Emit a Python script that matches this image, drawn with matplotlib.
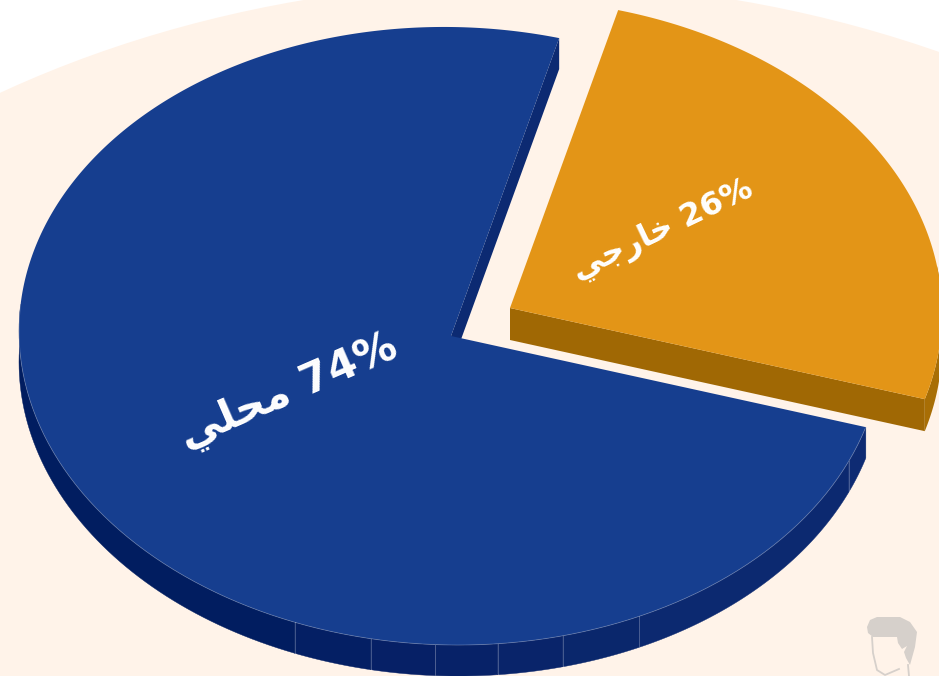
import matplotlib
matplotlib.use("Agg")
import matplotlib.pyplot as plt
import numpy as np
from matplotlib.patches import Ellipse, Polygon

# shares
labels = ["\uFEF2\uFEE0\uFEA4\uFEE3", "\uFEF2\uFE9F\uFEAD\uFE8E\uFEA7"]  # محلي / خارجي (shaped, visual order)
values = [74, 26]

# wall facets of the blue slice, degrees clockwise from top
facet_edges = [106.2, 113, 154.2, 165, 173.8, 182.1, 190.7, 201.2, 275]
facet_colors = ["#0e2b73", "#0c2970", "#0a276c", "#09246a", "#072268", "#062066", "#041f64", "#011d60"]

CREAM = "#fff3e9"
BLUE = "#163e8f"
BLUE_WALL = "#0c2a72"
ORANGE = "#e39517"
ORANGE_WALL = "#a06804"

# projected pie
cx, cy = 451, 336
rx, ry, skew = 432, 309, 5
depth = 31
start = 14.5
squash = 0.98   # perspective squeezes the far slice a little
explode = np.array([59, -28])


def arc(t0, t1, n=200):
    t = np.radians(np.linspace(t0, t1, n))
    x = cx + rx * np.sin(t)
    y = cy - ry * np.cos(t) + skew * np.sin(t)
    return np.column_stack([x, y])


fig = plt.figure(figsize=(9.39, 6.76), dpi=100)
ax = fig.add_axes([0, 0, 1, 1])
ax.set_xlim(0, 939)
ax.set_ylim(676, 0)
ax.axis("off")
fig.patch.set_facecolor("white")

ax.add_patch(Ellipse((520, 742), 2000, 1520, color=CREAM, lw=0))

orange_span = 360 * values[1] / sum(values) * squash
split = start + orange_span
down = np.array([0, depth])
apex = np.array([cx, cy])

# blue slice
top_edge = arc(start, start, 1)[0]
ax.add_patch(Polygon([apex, top_edge, top_edge + down, apex + down], color=BLUE_WALL, lw=0))
for i, col in enumerate(facet_colors):
    f = arc(facet_edges[i], facet_edges[i + 1], 60)
    ax.add_patch(Polygon(np.vstack([f, (f + down)[::-1]]), color=col, lw=0.3))
for e in facet_edges[1:-1]:
    p = arc(e, e, 1)[0]
    ax.plot([p[0], p[0]], [p[1], p[1] + depth], color="white", alpha=0.25, lw=0.7)
blue_arc = arc(split, start + 360, 500)
ax.add_patch(Polygon(np.vstack([apex, blue_arc]), color=BLUE, lw=0))
ax.plot(*arc(split, 275).T, color="white", alpha=0.25, lw=0.6)

# orange slice, pulled out
orange_arc = arc(start, split) + explode
o_apex = apex + explode
o_end = orange_arc[-1]
d2 = np.array([0, depth + 1])
ax.add_patch(Polygon([o_apex, o_end, o_end + d2, o_apex + d2], color=ORANGE_WALL, lw=0))
ow = arc(split - 25, split) + explode
ax.add_patch(Polygon(np.vstack([ow, (ow + d2)[::-1]]), color="#a86e05", lw=0))
ax.add_patch(Polygon(np.vstack([o_apex, orange_arc]), color=ORANGE, lw=0))

# labels
ax.text(289, 392, labels[0] + " " + str(values[0]) + "%", color="white", fontsize=30.5, fontweight="bold",
        family="DejaVu Sans", rotation=23.5, rotation_mode="anchor", ha="center", va="center")
ax.text(663, 230, labels[1] + " " + str(values[1]) + "%", color="white", fontsize=23, fontweight="bold",
        family="DejaVu Sans", rotation=25.5, rotation_mode="anchor", ha="center", va="center")

# little head logo bottom right
hair = [(867, 627), (870, 620), (877, 617), (900, 617), (910, 622), (917, 632), (915, 647), (910, 665),
        (906, 658), (904, 652), (907, 646), (902, 649), (898, 643), (897, 637), (873, 637), (868, 633)]
ax.add_patch(Polygon(hair, color="#d6d0cb", lw=0))
ax.plot([872, 873, 877, 885, 899], [637, 653, 670, 675, 669], color="#d6d0cb", lw=1.3)
ax.plot([908, 909], [665, 676], color="#d6d0cb", lw=1.3)

fig.savefig("out.png", dpi=100)
